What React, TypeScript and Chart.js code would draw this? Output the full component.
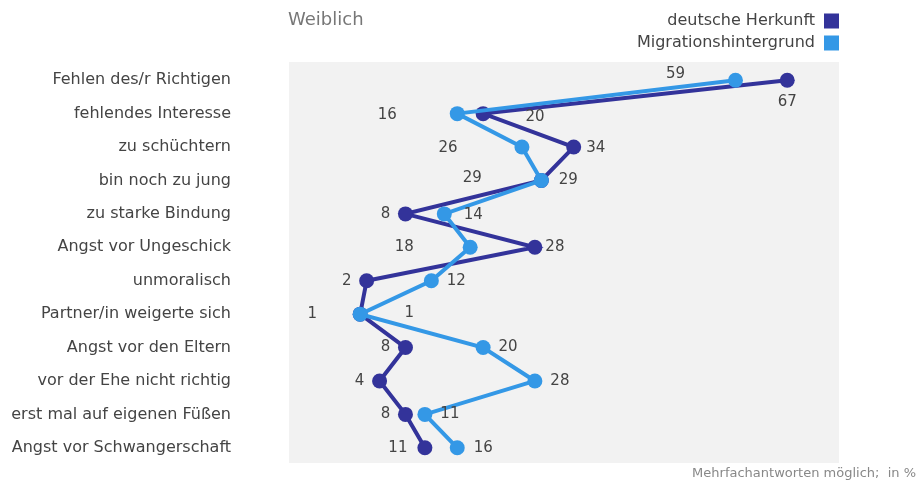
import { useEffect, useRef } from "react";
import { Chart, registerables } from "chart.js";

Chart.register(...registerables);

const categories = [
  "Fehlen des/r Richtigen",
  "fehlendes Interesse",
  "zu schüchtern",
  "bin noch zu jung",
  "zu starke Bindung",
  "Angst vor Ungeschick",
  "unmoralisch",
  "Partner/in weigerte sich",
  "Angst vor den Eltern",
  "vor der Ehe nicht richtig",
  "erst mal auf eigenen Füßen",
  "Angst vor Schwangerschaft",
];
const deutscheHerkunft = [67, 20, 34, 29, 8, 28, 2, 1, 8, 4, 8, 11];
const migrationshintergrund = [59, 16, 26, 29, 14, 18, 12, 1, 20, 28, 11, 16];
const seriesNames = ["deutsche Herkunft", "Migrationshintergrund"];
const titleText = "Weiblich";
const footnoteText = "Mehrfachantworten möglich;  in %";

// label offsets (px) relative to each point — styling only
const darkLabelOffsets = [
  [0, 22], [52, 3], [22, 1], [27, 0], [-20, 0], [20, 0],
  [-20, 0], [49, -1], [-20, 0], [-20, 0], [-20, 0], [-27, 0],
];
const lightLabelOffsets = [
  [-60, -6], [-70, 1], [-74, 1], [-69, -2], [29, 1], [-66, 0],
  [25, 0], [-48, 0], [25, 0], [25, 0], [25, 0], [26, 0],
];

const DARK = "#33339a";
const LIGHT = "#3498e6";
const FONT = "'DejaVu Sans', Verdana, sans-serif";

export default function App() {
  const ref = useRef<HTMLCanvasElement | null>(null);

  useEffect(() => {
    if (!ref.current) return;
    const decor = {
      id: "decor",
      beforeDraw(chart: any) {
        const { ctx, chartArea } = chart;
        ctx.save();
        ctx.fillStyle = "#f2f2f2";
        const top = chartArea.top - 1.5;
        const bottom = chartArea.bottom - 1.5;
        ctx.fillRect(chartArea.left, top, chartArea.right - chartArea.left, bottom - top);
        // category labels
        const yScale = chart.scales.y;
        ctx.font = `16px ${FONT}`;
        ctx.fillStyle = "#444";
        ctx.textAlign = "right";
        ctx.textBaseline = "middle";
        categories.forEach((c, i) => {
          ctx.fillText(c, chartArea.left - 58, yScale.getPixelForTick(i));
        });
        ctx.restore();
      },
      afterDatasetsDraw(chart: any) {
        const { ctx } = chart;
        ctx.save();
        ctx.font = `15px ${FONT}`;
        ctx.fillStyle = "#444";
        ctx.textAlign = "center";
        ctx.textBaseline = "middle";
        const offs = [darkLabelOffsets, lightLabelOffsets];
        chart.data.datasets.forEach((ds: any, di: number) => {
          const meta = chart.getDatasetMeta(di);
          meta.data.forEach((pt: any, i: number) => {
            const o = offs[di][i];
            ctx.fillText(String(ds.data[i]), pt.x + o[0], pt.y + o[1]);
          });
        });
        ctx.restore();
      },
      afterDraw(chart: any) {
        const { ctx } = chart;
        ctx.save();
        ctx.textBaseline = "middle";
        ctx.font = `18px ${FONT}`;
        ctx.fillStyle = "#777";
        ctx.textAlign = "left";
        ctx.fillText(titleText, 288, 20);
        ctx.font = `16px ${FONT}`;
        ctx.textAlign = "right";
        const cols = [DARK, LIGHT];
        seriesNames.forEach((n, i) => {
          const y = 21 + i * 22;
          ctx.fillStyle = "#444";
          ctx.fillText(n, 815, y);
          ctx.fillStyle = cols[i];
          ctx.fillRect(824, y - 7.5, 15, 15);
        });
        ctx.font = `13px ${FONT}`;
        ctx.fillStyle = "#888";
        ctx.fillText(footnoteText, 916, 474);
        ctx.restore();
      },
    };

    const chart = new Chart(ref.current, {
      type: "line",
      data: {
        labels: categories,
        datasets: [
          {
            label: seriesNames[0],
            data: deutscheHerkunft,
            borderColor: DARK,
            backgroundColor: DARK,
            borderWidth: 4,
            pointRadius: 7.5,
            pointBorderWidth: 0,
            pointBackgroundColor: DARK,
            tension: 0,
            order: 1,
          },
          {
            label: seriesNames[1],
            data: migrationshintergrund,
            borderColor: LIGHT,
            backgroundColor: LIGHT,
            borderWidth: 4,
            pointRadius: 7.5,
            pointBorderWidth: 0,
            pointBackgroundColor: LIGHT,
            tension: 0,
            order: 0,
          },
        ],
      },
      options: {
        indexAxis: "y",
        responsive: false,
        animation: false,
        events: [],
        layout: { padding: { left: 0, right: 79, top: 63.5, bottom: 19.5 } },
        plugins: { legend: { display: false }, tooltip: { enabled: false }, title: { display: false } },
        scales: {
          x: { type: "linear", min: -10, max: 75, display: false },
          y: {
            type: "category",
            offset: true,
            grid: { display: false, drawTicks: false },
            border: { display: false },
            ticks: { display: false, padding: 0 },
            afterFit(scale: any) {
              scale.width = 289;
            },
          },
        },
      } as any,
      plugins: [decor],
    });
    return () => chart.destroy();
  }, []);

  return (
    <div style={{ position: "fixed", left: 0, top: 0, width: 918, height: 484, background: "#fff" }}>
      <canvas ref={ref} width={918} height={484} style={{ display: "block" }} />
    </div>
  );
}
